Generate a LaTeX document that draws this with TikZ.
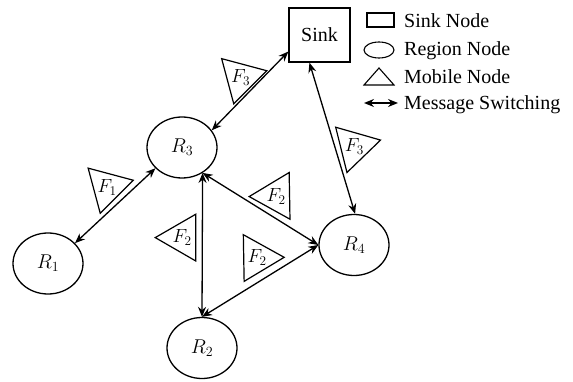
\documentclass[tikz,border=0pt]{standalone}
\usepackage{fix-cm}
\usepackage{fontspec}
\setmainfont{Liberation Serif}
\usetikzlibrary{shapes.geometric,arrows.meta}

\begin{document}
\begin{tikzpicture}[x=1pt,y=-1pt,
  every node/.style={font=\fontsize{20}{23}\selectfont},
  region/.style={draw,ellipse,line width=1.3pt,minimum width=70pt,minimum height=61pt,inner sep=0pt},
  sinkbox/.style={draw,rectangle,line width=1.3pt,minimum width=61pt,minimum height=54pt},
  mobile/.style={draw,regular polygon,regular polygon sides=3,minimum size=52pt,inner sep=0pt,
                 line width=1.2pt,font=\fontsize{19}{21}\selectfont},
  link/.style={line width=1.3pt,{Stealth[length=10pt,width=8pt]}-{Stealth[length=10pt,width=8pt]}},
  legtext/.style={anchor=base west,inner sep=0pt}
]
\useasboundingbox (0,0) rectangle (573,382);

% sink and region nodes
\node[sinkbox] (sink) at (319.5,35) {Sink};
\node[region] (R3) at (182,147.5) {$R_3$};
\node[region] (R1) at (48,263.5) {$R_1$};
\node[region] (R2) at (202,348) {$R_2$};
\node[region] (R4) at (354,245) {$R_4$};

% message switching links
\draw[link] (sink.208.7) -- (R3.30.5);
\draw[link] (R1.37.2) -- (R3.218.5);
\draw[link] (R3.-51.3) -- (R2.north);
\draw[link] (R3.-51.3) -- (R4.west);
\draw[link] (R2.north) -- (R4.west);
\draw[link] (sink.250.6) -- (R4.88);

% mobile nodes beside the links
\node[mobile,regular polygon rotate=45]  (m1) at (240.7,77.7)  {$F_3$};
\node[mobile,regular polygon rotate=45]  (m2) at (107.2,187.2) {$F_1$};
\node[mobile,regular polygon rotate=90]  (m3) at (182.2,237.6) {$F_2$};
\node[mobile,regular polygon rotate=-29] (m4) at (276.1,196.1) {$F_2$};
\node[mobile,regular polygon rotate=31]  (m5) at (257.2,257.8) {$F_2$};
\node[mobile,regular polygon rotate=-76] (m6) at (354.4,146.6) {$F_3$};

% legend
\node[draw,rectangle,line width=1.1pt,minimum width=27pt,minimum height=14pt,inner sep=0pt] (lsink) at (380.5,20) {};
\node[draw,ellipse,line width=1.1pt,minimum width=30pt,minimum height=16pt,inner sep=0pt] (lregion) at (379,50) {};
\coordinate (ta) at (379,68);
\coordinate (tb) at (364,85);
\coordinate (tc) at (394,85);
\draw[line width=1.1pt,line join=miter] (ta) -- (tb) -- (tc) -- cycle;
\coordinate (la) at (364,103);
\coordinate (lb) at (398,103);
\draw[link] (la) -- (lb);

\node[legtext] (t1) at (404,28) {Sink Node};
\node[legtext] (t2) at (404,55.5) {Region Node};
\node[legtext] (t3) at (404,83.5) {Mobile Node};
\node[legtext] (t4) at (404,110) {Message Switching};
\end{tikzpicture}
\end{document}
